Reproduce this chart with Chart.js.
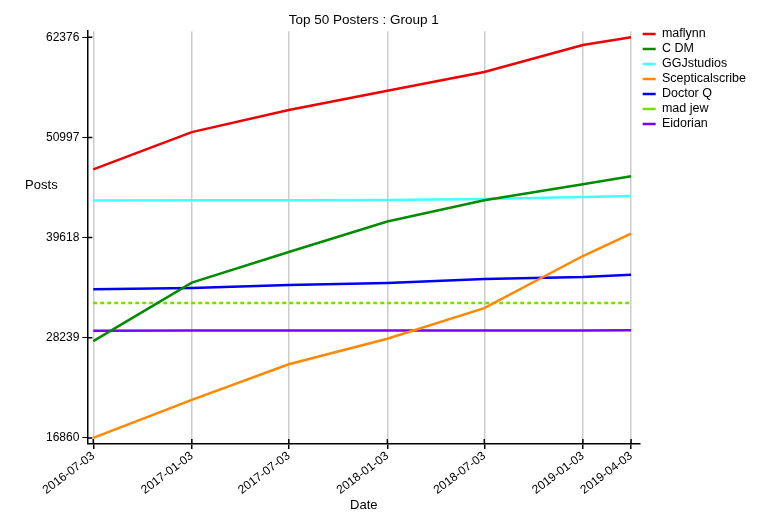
<!DOCTYPE html>
<html>
<head>
<meta charset="utf-8">
<script src="https://cdn.jsdelivr.net/npm/chart.js@4.4.1/dist/chart.umd.min.js"></script>
<style>
  html, body { margin: 0; padding: 0; background: #fff; }
</style>
</head>
<body>
<canvas id="chart" width="775" height="525"></canvas>
<script>
'use strict';

// ─── Data ────────────────────────────────────────────────────────────────────

const DATES = ['2016-07-03', '2017-01-03', '2017-07-03', '2018-01-03', '2018-07-03', '2019-01-03', '2019-04-03'];
const Y_TICKS = [16860, 28239, 39618, 50997, 62376];

const MAFLYNN        = [47356, 51600, 54104, 56300, 58428, 61500, 62376];
const C_DM           = [27852, 34497, 37980, 41439, 43862, 45683, 46593];
const GGJSTUDIOS     = [43828, 43850, 43862, 43897, 44010, 44238, 44352];
const SCEPTICALSCRIBE = [16860, 21184, 25235, 28125, 31607, 37524, 40073];
const DOCTOR_Q       = [33735, 33883, 34224, 34452, 34907, 35135, 35408];
const MAD_JEW        = [32200, 32200, 32200, 32200, 32200, 32200, 32200];
const EIDORIAN       = [29040, 29050, 29055, 29065, 29070, 29075, 29080];

// days since first date, so the x axis is spaced like a time axis
const DAY_MS = 24 * 3600 * 1000;
const DAYS = DATES.map((d) => Math.round((Date.parse(d) - Date.parse(DATES[0])) / DAY_MS));

const SERIES = [
  { label: 'maflynn',         data: MAFLYNN,         color: '#ee0000' },
  { label: 'C DM',            data: C_DM,            color: '#008c00' },
  { label: 'GGJstudios',      data: GGJSTUDIOS,      color: '#44ffff' },
  { label: 'Scepticalscribe', data: SCEPTICALSCRIBE, color: '#ff8800' },
  { label: 'Doctor Q',        data: DOCTOR_Q,        color: '#0000f0' },
  { label: 'mad jew',         data: MAD_JEW,         color: '#77dd00', dash: [4, 3] },
  { label: 'Eidorian',        data: EIDORIAN,        color: '#7700ff' },
];

// ─── Chart ───────────────────────────────────────────────────────────────────

const FONT = "'Liberation Sans', Arial, Helvetica, sans-serif";
Chart.defaults.font.family = FONT;
Chart.defaults.color = '#000';

// ticks that cross the axis line, plus the horizontal "Posts" label
const axisExtras = {
  id: 'axisExtras',
  afterDraw(chart) {
    const { ctx, chartArea, scales: { x, y } } = chart;
    ctx.save();
    ctx.strokeStyle = '#000';
    ctx.lineWidth = 1.5;
    ctx.beginPath();
    y.ticks.forEach((t) => {
      const py = y.getPixelForValue(t.value);
      ctx.moveTo(chartArea.left, py);
      ctx.lineTo(chartArea.left + 5, py);
    });
    x.ticks.forEach((t) => {
      const px = x.getPixelForValue(t.value);
      ctx.moveTo(px, chartArea.bottom);
      ctx.lineTo(px, chartArea.bottom - 5);
    });
    ctx.stroke();
    ctx.fillStyle = '#000';
    ctx.font = `13px ${FONT}`;
    ctx.textAlign = 'center';
    ctx.textBaseline = 'middle';
    ctx.fillText('Posts', chartArea.left - 46, chartArea.top + 154);
    ctx.restore();
  },
};

const ctx = document.getElementById('chart').getContext('2d');
new Chart(ctx, {
  type: 'line',
  data: {
    datasets: SERIES.map((s) => ({
      label: s.label,
      data: DAYS.map((d, i) => ({ x: d, y: s.data[i] })),
      borderColor: s.color,
      backgroundColor: s.color,
      borderWidth: 2.5,
      borderDash: s.dash || [],
      pointRadius: 0,
      tension: 0,
      fill: false,
    })),
  },
  options: {
    responsive: false,
    animation: false,
    devicePixelRatio: 1,
    layout: { padding: { left: 43, right: 19, top: 0, bottom: 12 } },
    plugins: {
      title: {
        display: true,
        text: 'Top 50 Posters : Group 1',
        fullSize: false,
        font: { size: 13.5, weight: 'normal' },
        padding: { top: 12, bottom: 3 },
      },
      legend: {
        position: 'right',
        align: 'start',
        title: { display: true, text: ' ', font: { size: 1 }, padding: { top: 24, bottom: 0 } },
        labels: {
          usePointStyle: true,
          pointStyle: 'line',
          pointStyleWidth: 13,
          boxHeight: 12,
          padding: 2.5,
          font: { size: 12.5 },
          color: '#000',
        },
      },
      tooltip: { enabled: false },
    },
    scales: {
      x: {
        type: 'linear',
        min: -11,
        max: 1021,
        afterBuildTicks: (axis) => { axis.ticks = DAYS.map((v) => ({ value: v })); },
        ticks: {
          autoSkip: false,
          minRotation: 37,
          maxRotation: 37,
          padding: 0,
          font: { size: 12 },
          callback: (v) => DATES[DAYS.indexOf(v)],
        },
        grid: { color: '#cccccc', lineWidth: 1.5, tickColor: '#000', tickLength: 5 },
        border: { color: '#000', width: 1.5 },
        title: { display: true, text: 'Date', font: { size: 13 }, padding: { top: 0, bottom: 0 } },
      },
      y: {
        type: 'linear',
        min: 16177,
        max: 63059,
        afterBuildTicks: (axis) => { axis.ticks = Y_TICKS.map((v) => ({ value: v })); },
        ticks: { padding: 3, font: { size: 12 }, callback: (v) => String(v) },
        grid: { drawOnChartArea: false, tickColor: '#000', tickLength: 5 },
        border: { color: '#000', width: 1.5 },
      },
    },
  },
  plugins: [axisExtras],
});
</script>
</body>
</html>
